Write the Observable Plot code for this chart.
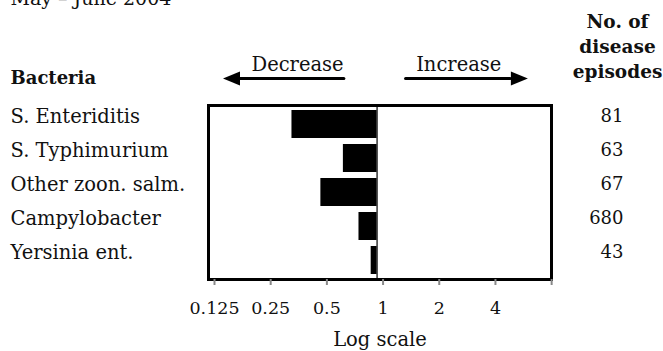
<!DOCTYPE html>
<html>
<head>
<meta charset="utf-8">
<script src="https://cdn.jsdelivr.net/npm/d3@7"></script>
<script src="https://cdn.jsdelivr.net/npm/@observablehq/plot@0.6"></script>
<style>
  html, body { margin: 0; padding: 0; background: #fff; }
  #chart { width: 663px; height: 351px; overflow: hidden; }
</style>
</head>
<body>
<div id="chart"></div>
<script>
// ---- data ----
const title = "May – June 2004";
const bacteria = ["S. Enteriditis", "S. Typhimurium", "Other zoon. salm.", "Campylobacter", "Yersinia ent."];
const ratio = [0.35, 0.66, 0.50, 0.80, 0.93];
const episodes = [81, 63, 67, 680, 43];
const xTicks = [0.125, 0.25, 0.5, 1, 2, 4, 8];
const xTickLabels = ["0.125", "0.25", "0.5", "1", "2", "4", ""];
const directionLabels = ["Decrease", "Increase"];
const directionLabelX = [0.375, 2.74];
const arrowFrom = [0.668, 1.43];
const arrowTo = [0.184, 5.2];
const arrowHead = [0.167, 5.75];
const arrowRotate = [180, 0];

const rows = bacteria.map((b, i) => ({bacteria: b, ratio: ratio[i], episodes: episodes[i]}));
const arrows = directionLabels.map((l, i) => ({label: l, lx: directionLabelX[i], from: arrowFrom[i], to: arrowTo[i], head: arrowHead[i], rotate: arrowRotate[i]}));

const headSymbol = {
  draw(ctx) { ctx.moveTo(9, 0); ctx.lineTo(-8, -7); ctx.lineTo(-8, 7); ctx.closePath(); }
};

const font = "DejaVu Serif";
const chart = Plot.plot({
  width: 663,
  height: 351,
  marginLeft: 208,
  marginRight: 112,
  marginTop: 105,
  marginBottom: 72,
  style: {fontFamily: font, fontSize: "17px", color: "#111", background: "#fff"},
  x: {type: "log", domain: [0.125, 8.6]},
  y: {type: "band", domain: bacteria, paddingInner: 0.17, paddingOuter: 0.12},
  marks: [
    Plot.barX(rows, {y: "bacteria", x1: 1, x2: "ratio", fill: "#000"}),
    Plot.ruleX([1], {stroke: "#000", strokeWidth: 1.2}),
    Plot.frame({stroke: "#000", strokeWidth: 3}),
    Plot.axisX({ticks: xTicks, tickFormat: (d) => xTickLabels[xTicks.indexOf(d)], tickSize: 6, tickPadding: 16, stroke: "#888", strokeWidth: 2, dx: 6, fontSize: 17.5, fill: "#111", label: null}),
    Plot.axisY({ticks: [], label: null}),
    // left category labels
    Plot.text(rows, {y: "bacteria", text: "bacteria", frameAnchor: "left", textAnchor: "start", dx: -198, dy: -7.5, fontSize: 19.5, fill: "#111"}),
    // right episode counts
    Plot.text(rows, {y: "bacteria", text: d => String(d.episodes), frameAnchor: "right", textAnchor: "end", dx: 72, dy: -8.5, fontSize: 18, fill: "#111"}),
    // headers
    Plot.text(["Bacteria"], {frameAnchor: "top-left", textAnchor: "start", lineAnchor: "bottom", dx: -198, dy: -22, fontWeight: "bold", fontSize: 18, fill: "#111"}),
    Plot.text(["No. of\ndisease\nepisodes"], {frameAnchor: "top-right", textAnchor: "middle", lineAnchor: "bottom", dx: 66, dy: -28, lineHeight: 1.35, fontWeight: "bold", fontSize: 18.5, fill: "#111"}),
    Plot.text([title], {frameAnchor: "top-left", textAnchor: "start", lineAnchor: "bottom", dx: -198, dy: -101, fontSize: 19, fill: "#111"}),
    Plot.text(["Log scale"], {frameAnchor: "bottom", lineAnchor: "bottom", dy: 66, fontSize: 19.5, fill: "#111"}),
    // direction arrows
    Plot.ruleY(arrows, {y: null, x1: "from", x2: "to", dy: -114, stroke: "#000", strokeWidth: 3, strokeLinecap: "round"}),
    Plot.dot(arrows, {x: "head", frameAnchor: "top", dy: -27, symbol: headSymbol, rotate: "rotate", r: 5, fill: "#000", stroke: null}),
    Plot.text(arrows, {x: "lx", text: "label", frameAnchor: "top", lineAnchor: "bottom", dy: -35, fontSize: 19.5, fill: "#111"})
  ]
});
document.getElementById("chart").appendChild(chart);
</script>
</body>
</html>
